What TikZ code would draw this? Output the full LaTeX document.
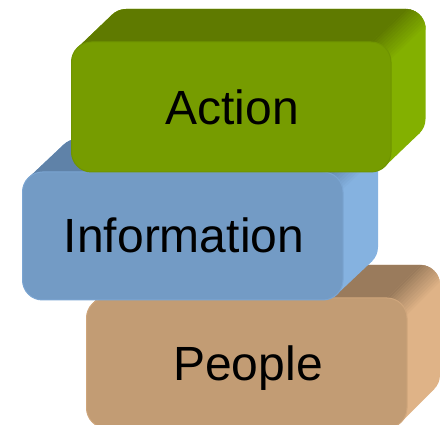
\documentclass[tikz,border=0pt]{standalone}
\usepackage{fontspec}
\setmainfont{Liberation Sans}
\definecolor{atop}{HTML}{5F7A00}\definecolor{aside}{HTML}{83B000}\definecolor{afront}{HTML}{769C00}\definecolor{arim}{HTML}{6F9400}
\definecolor{itop}{HTML}{5F82A8}\definecolor{iside}{HTML}{85B2E0}\definecolor{ifront}{HTML}{739BC5}\definecolor{irim}{HTML}{7BA5D2}
\definecolor{ptop}{HTML}{9A7B5C}\definecolor{pside}{HTML}{DFB387}\definecolor{pfront}{HTML}{C29C74}\definecolor{prim}{HTML}{CFA67C}
\tikzset{
  facebox/.style={rounded corners=20pt,inner sep=0pt,outer sep=0pt,line width=1pt},
  label/.style={anchor=base,inner sep=0pt,text=black,font=\fontsize{48}{48}\selectfont}
}
% #1 x0, #2 y0, #3 x1, #4 y1, #5 dx, #6 dy, #7 colour prefix, #8 node name
\newcommand{\brick}[8]{%
  \pgfmathsetmacro{\xa}{#1}\pgfmathsetmacro{\ya}{#2}\pgfmathsetmacro{\xb}{#3}\pgfmathsetmacro{\yb}{#4}%
  \pgfmathsetmacro{\tl}{20*(1-0.7071)}%
  % back face and the sweep to the front face
  \fill[#7side,rounded corners=20pt] (\xa+#5,\ya-#6) rectangle (\xb+#5,\yb-#6);
  \fill[#7side] (\xa+\tl,\ya+\tl) -- (\xa+\tl+#5,\ya+\tl-#6) -- (\xb-\tl+#5,\yb-\tl-#6) -- (\xb-\tl,\yb-\tl) -- cycle;
  % top face, following the back corner's arc
  \fill[#7top] (\xa+\tl,\ya+\tl) -- (\xa+\tl+#5,\ya+\tl-#6)
    .. controls (\xa+\tl+#5+3.75,\ya+\tl-#6-3.75) and (\xa+20+#5-5.3,\ya-#6) .. (\xa+20+#5,\ya-#6)
    -- (\xb-20+#5,\ya-#6) -- (\xb-20,\ya) -- (\xa+20,\ya) -- cycle;
  % rounded top-right edge, a band of strips
  \foreach \i in {0,...,11}{
    \pgfmathsetmacro{\tha}{90-\i*7.5}\pgfmathsetmacro{\thb}{90-(\i+1)*7.5}\pgfmathtruncatemacro{\mixv}{100-\i*100/11}
    \pgfmathsetmacro{\pax}{\xb-20+20*cos(\tha)}\pgfmathsetmacro{\pay}{\ya+20-20*sin(\tha)}
    \pgfmathsetmacro{\pbx}{\xb-20+20*cos(\thb)}\pgfmathsetmacro{\pby}{\ya+20-20*sin(\thb)}
    \filldraw[fill=#7top!\mixv!#7side,draw=#7top!\mixv!#7side,line width=.3pt] (\pax,\pay) -- (\pax+#5,\pay-#6) -- (\pbx+#5,\pby-#6) -- (\pbx,\pby) -- cycle;
  }
  \node[facebox,draw=#7rim,fill=#7front,minimum width=#3pt-#1pt,minimum height=#4pt-#2pt] (#8) at ({(#1+#3)/2},{(#2+#4)/2}) {};
}
\begin{document}
\begin{tikzpicture}[x=1pt,y=-1pt]
\useasboundingbox (0,0) rectangle (440,425);
\begin{scope}
\clip (0,0) rectangle (440,425);
\brick{86.5}{298}{407}{428}{33}{33}{p}{peoplebox}
\brick{22.5}{172}{343}{300}{35}{33}{i}{infobox}
\brick{71.5}{42}{391}{172}{34.5}{33}{a}{actionbox}
\end{scope}
\node[label] (actiontext) at (232,125) {Action};
\node[label] (infotext) at (184,253) {Information};
\node[label] (peopletext) at (248,381) {People};
\end{tikzpicture}
\end{document}
